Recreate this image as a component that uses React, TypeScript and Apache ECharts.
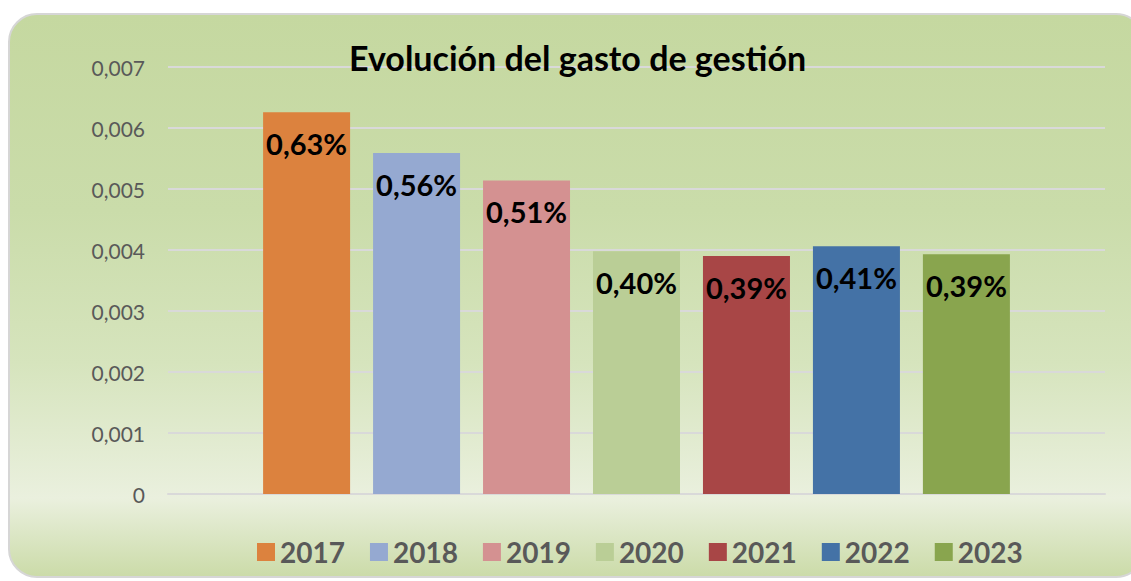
import React, { useEffect, useRef } from "react";
import * as echarts from "echarts";

const years = ["2017", "2018", "2019", "2020", "2021", "2022", "2023"];
const values = [0.00626, 0.00559, 0.00514, 0.00398, 0.0039, 0.00406, 0.00393];
const colors = ["#dc823e", "#95a9d1", "#d49191", "#bace96", "#a84646", "#4472a6", "#89a54e"];
const category = ["Gasto de gestión"];
const titleText = "Evolución del gasto de gestión";

const FONT = "Lato, 'Open Sans', sans-serif";

export default function App() {
  const ref = useRef<HTMLDivElement>(null);
  useEffect(() => {
    if (!ref.current) return;
    const chart = echarts.init(ref.current, null, { renderer: "svg" });
    const series = years.map((y, i) => ({
      name: y,
      type: "bar",
      data: [values[i]],
      barWidth: 87,
      barGap: "26.4%",
      itemStyle: { color: colors[i] },
      label: {
        show: true,
        position: "insideTop",
        distance: 17,
        formatter: (p: any) => (p.value * 100).toFixed(2).replace(".", ",") + "%",
        color: "#000",
        fontFamily: FONT,
        fontWeight: "bold",
        fontSize: 29,
        lineHeight: 29,
      },
    }));
    chart.setOption({
      animation: false,
      textStyle: { fontFamily: FONT },
      graphic: [
        {
          type: "rect",
          z: -10,
          silent: true,
          shape: { x: 9, y: 14, width: 1135, height: 563, r: 28 },
          style: {
            fill: new echarts.graphic.LinearGradient(0, 0, 0, 1, [
              { offset: 0, color: "#c5d8a0" },
              { offset: 0.35, color: "#cadcaa" },
              { offset: 0.62, color: "#d6e4bd" },
              { offset: 0.86, color: "#eaf0de" },
              { offset: 1, color: "#cbdba8" },
            ]),
            stroke: "#d6d6d6",
            lineWidth: 2,
          },
        },
      ],
      title: {
        text: titleText,
        left: 344,
        top: 35,
        textStyle: { fontFamily: FONT, fontWeight: "bold", fontSize: 34, color: "#000" },
      },
      legend: {
        data: years,
        left: 252,
        top: 533,
        itemWidth: 18,
        itemHeight: 18,
        itemGap: 25,
        icon: "rect",
        textStyle: { fontFamily: FONT, fontWeight: "bold", fontSize: 28, color: "#595959" },
      },
      grid: { left: 168, right: 26, top: 67, bottom: 87 },
      xAxis: {
        type: "category",
        data: category,
        axisLabel: { show: false },
        axisTick: { show: false },
        axisLine: { lineStyle: { color: "#d9d9d9", width: 2 } },
      },
      yAxis: {
        type: "value",
        min: 0,
        max: 0.007,
        interval: 0.001,
        axisLabel: {
          margin: 23,
          color: "#595959",
          fontFamily: FONT,
          fontSize: 21,
          formatter: (v: number) => (v === 0 ? "0" : v.toFixed(3).replace(".", ",")),
        },
        splitLine: { lineStyle: { color: "#d9d9d9", width: 2 } },
        axisLine: { show: false },
        axisTick: { show: false },
      },
      series,
    });
    return () => chart.dispose();
  }, []);
  return (
    <div
      ref={ref}
      style={{ position: "absolute", left: 0, top: 0, width: 1131, height: 581, background: "#fff" }}
    />
  );
}
